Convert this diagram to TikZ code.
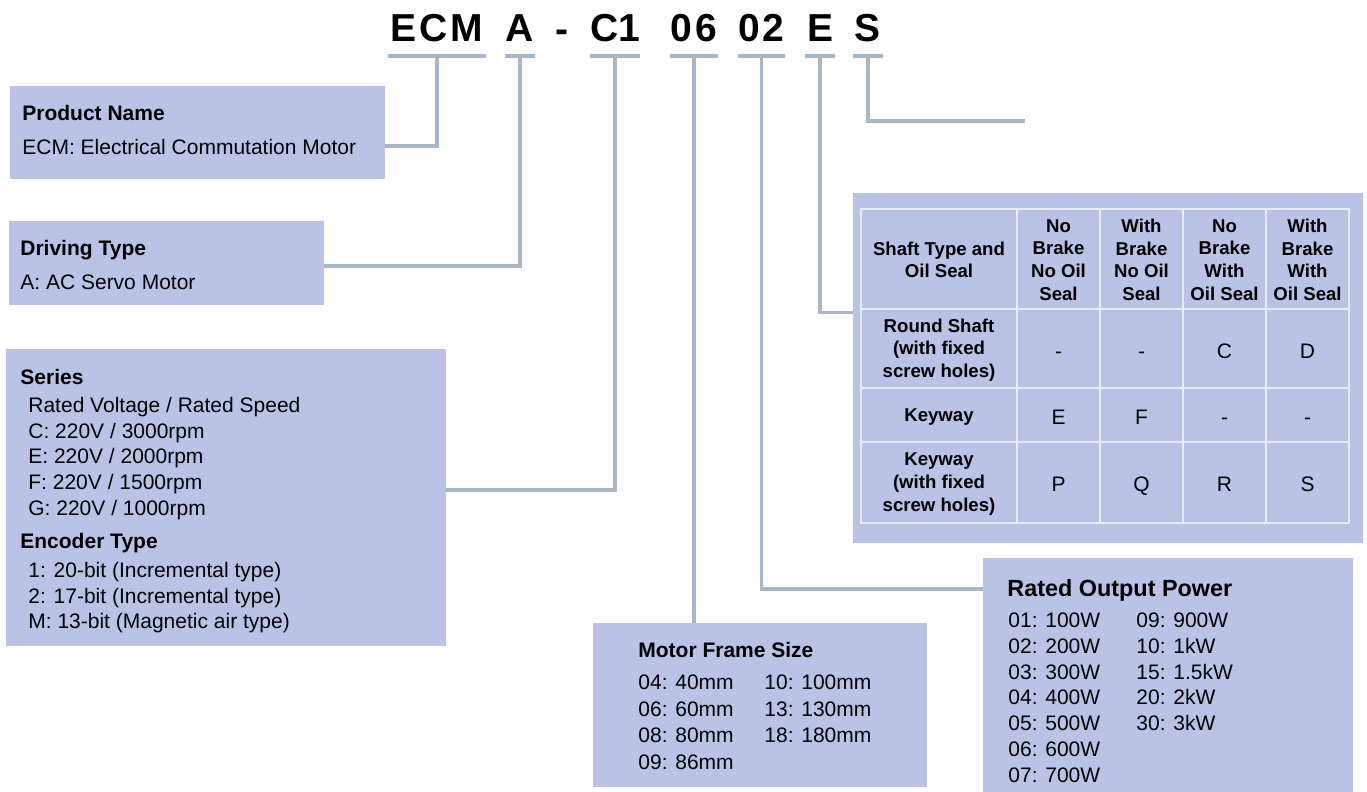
\documentclass[tikz,border=0pt]{standalone}
\usepackage{fontspec}
\setmainfont{Liberation Sans}
\usetikzlibrary{fit,positioning}
\definecolor{boxfill}{RGB}{186,195,230}
\definecolor{wire}{RGB}{168,183,198}
\definecolor{gridline}{RGB}{232,235,246}
\tikzset{
  code/.style={font=\fontsize{19.5}{20}\selectfont\bfseries, inner xsep=0pt, inner ysep=7pt, text height=14pt, text depth=0pt, anchor=base},
  bar/.style={draw=wire, line width=1.9pt},
  conn/.style={draw=wire, line width=1.9pt},
  box/.style={fill=boxfill, inner sep=0pt},
  head/.style={font=\fontsize{10.5}{12.85}\selectfont\bfseries, anchor=base west, inner sep=0pt},
  body/.style={font=\fontsize{10.5}{12.85}\selectfont, anchor=base west, inner sep=0pt, align=left},
  cellhead/.style={font=\fontsize{9.3}{11.35}\selectfont\bfseries, align=center, inner sep=0pt},
  cell/.style={font=\fontsize{10.5}{12}\selectfont, inner sep=0pt, text height=7.5pt, text depth=0pt}
}
\begin{document}
\begin{tikzpicture}[x=0.5pt, y=-0.5pt]
\useasboundingbox (0,0) rectangle (1367,792);
% model code
\node[code, minimum width=49pt] (ecm) at (437,42) {E\kern1.5pt C\kern1.5pt M};
\node[code, minimum width=15pt] (nA) at (520,42) {A};
\node[code] (dash) at (562,43) {-};
\node[code, minimum width=24pt] (nC1) at (615,42) {C1};
\node[code, minimum width=24pt] (n06) at (694,42) {0\kern1.5pt 6};
\node[code, minimum width=23.5pt] (n02) at (761.5,42) {0\kern1.5pt 2};
\node[code, minimum width=15pt] (nE) at (820,42) {E};
\node[code, minimum width=15pt] (nS) at (868,42) {S};
\foreach \n in {ecm,nA,nC1,n06,n02,nE,nS}
  \draw[bar] (\n.south west) -- (\n.south east);

% boxes
\node[box, fit={(10,86) (385,179)}] (prod) {};
\node[box, fit={(9,221) (324,305)}] (drive) {};
\node[box, fit={(6,349) (446,646)}] (series) {};
\node[box, fit={(853,193) (1363,543)}] (shaft) {};
\node[box, fit={(593,623) (927,787)}] (frame) {};
\node[box, fit={(983,558) (1353,792)}] (power) {};

% texts (base of a multi-line node is its last line)
\node[head] (prodHead) at (22,120.5) {Product Name};
\node[body] (prodText) at (22,154.5) {ECM: Electrical Commutation Motor};
\node[head] (driveHead) at (20,255.5) {Driving Type};
\node[body] (driveText) at (20,289.5) {A: AC Servo Motor};
\node[head] (seriesHead) at (20,384.5) {Series};
\node[body] (seriesText) at (28,515.3) {Rated Voltage / Rated Speed\\C: 220V / 3000rpm\\E: 220V / 2000rpm\\F: 220V / 1500rpm\\G: 220V / 1000rpm};
\node[head] (encHead) at (20,548.5) {Encoder Type};
\node[body] (encText) at (28,628.9) {1: 20-bit (Incremental type)\\2: 17-bit (Incremental type)\\M: 13-bit (Magnetic air type)};
\node[head] (frameHead) at (638,657.5) {Motor Frame Size};
\node[body, font=\fontsize{10.5}{13.35}\selectfont] (frameA) at (638,769.6) {04: 40mm\\06: 60mm\\08: 80mm\\09: 86mm};
\node[body, font=\fontsize{10.5}{13.35}\selectfont] (frameB) at (764,742.9) {10: 100mm\\13: 130mm\\18: 180mm};
\node[head, font=\fontsize{11.7}{13}\selectfont\bfseries] (powerHead) at (1007,596.5) {Rated Output Power};
\node[body, font=\fontsize{10.5}{12.9}\selectfont] (powerA) at (1008,782.3) {01: 100W\\02: 200W\\03: 300W\\04: 400W\\05: 500W\\06: 600W\\07: 700W};
\node[body, font=\fontsize{10.5}{12.9}\selectfont] (powerB) at (1136,730.7) {09: 900W\\10: 1kW\\15: 1.5kW\\20: 2kW\\30: 3kW};

% shaft table
\draw[gridline, line width=1pt] (861,209) rectangle (1349,523)
  (1017,209) -- (1017,523) (1100,209) -- (1100,523) (1183,209) -- (1183,523) (1266,209) -- (1266,523)
  (861,309) -- (1349,309) (861,388) -- (1349,388) (861,442) -- (1349,442);
\node[cellhead] (th0) at (939,260) {Shaft Type and\\Oil Seal};
\node[cellhead] (th1) at (1058.5,260) {No\\Brake\\No Oil\\Seal};
\node[cellhead] (th2) at (1141.5,260) {With\\Brake\\No Oil\\Seal};
\node[cellhead] (th3) at (1224.5,260) {No\\Brake\\With\\Oil Seal};
\node[cellhead] (th4) at (1307.5,260) {With\\Brake\\With\\Oil Seal};
\node[cellhead] (tr1) at (939,350) {Round Shaft\\(with fixed\\screw holes)};
\node[cellhead] (tr2) at (939,417) {Keyway};
\node[cellhead] (tr3) at (939,484) {Keyway\\(with fixed\\screw holes)};
\foreach \x/\a/\b/\c [count=\i] in {1058.5/-/E/P, 1141.5/-/F/Q, 1224.5/C/-/R, 1307.5/D/-/S} {
  \node[cell] (va\i) at (\x,351) {\a};
  \node[cell] (vb\i) at (\x,417) {\b};
  \node[cell] (vc\i) at (\x,484) {\c};
}

% connectors
\coordinate (sEnd) at (1025,121);
\draw[conn] (ecm.south) |- ([yshift=-6.75pt]prod.east);
\draw[conn] (nA.south) |- ([yshift=-1.5pt]drive.east);
\draw[conn] (nC1.south) |- ([yshift=3.75pt]series.east);
\draw[conn] (n06.south) -- (n06.south |- frame.north);
\draw[conn] (n02.south) |- ([yshift=43pt]power.west);
\draw[conn] (nE.south) |- ([yshift=27.75pt]shaft.west);
\draw[conn] (nS.south) |- (sEnd);
\end{tikzpicture}
\end{document}
